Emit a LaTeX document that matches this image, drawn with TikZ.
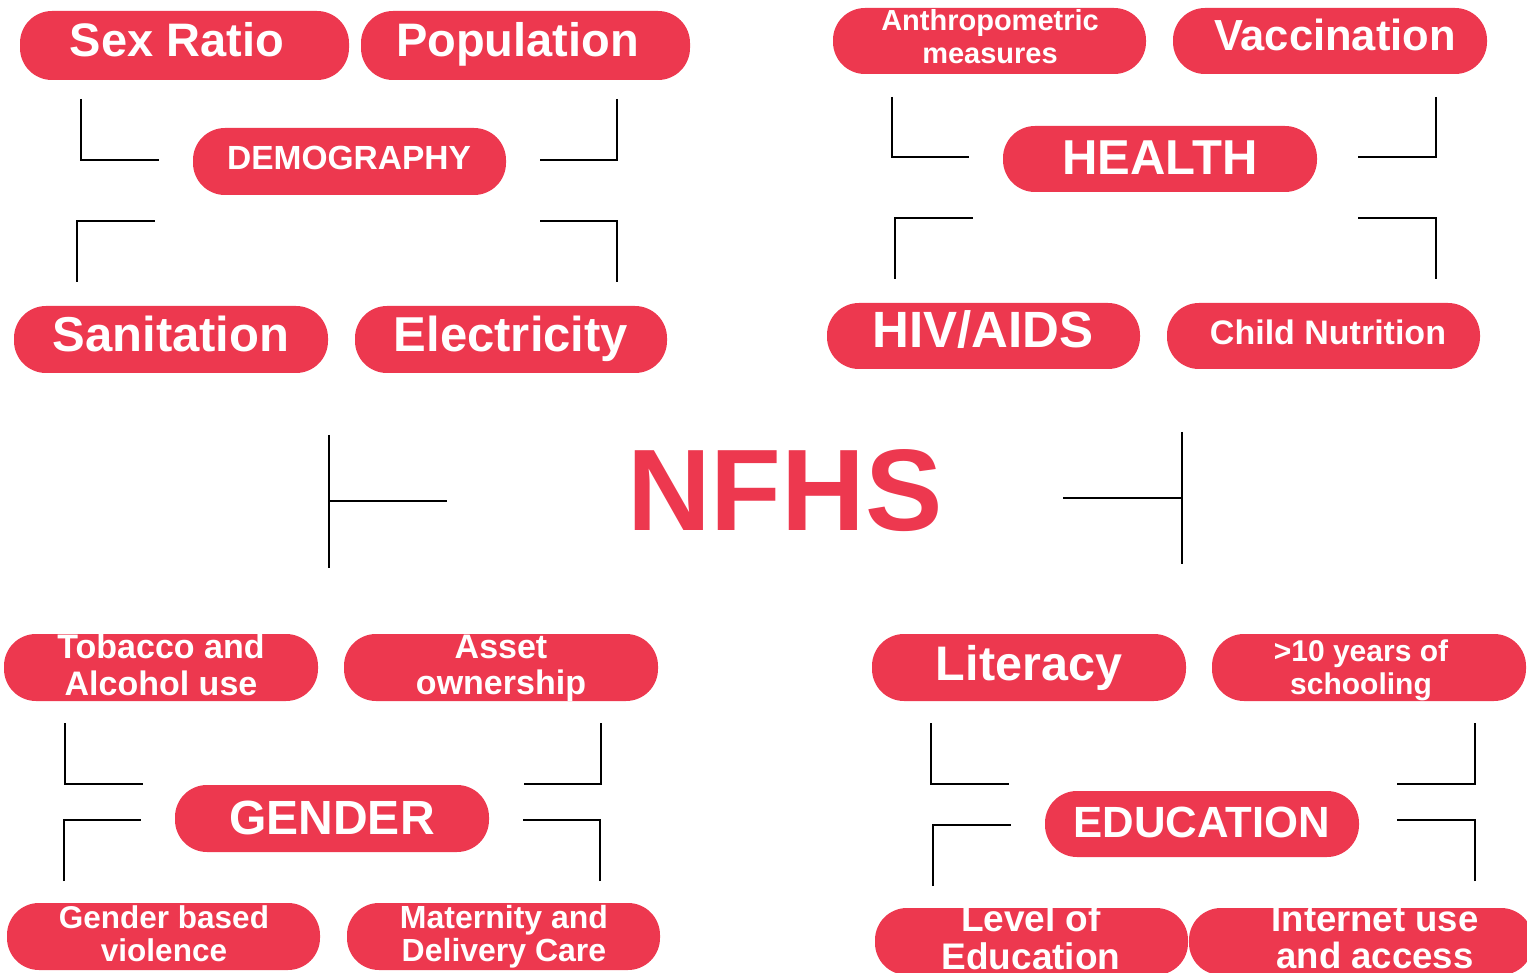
\documentclass[tikz,border=0pt]{standalone}
\usepackage{fontspec}
\setmainfont{Liberation Sans}
\definecolor{pillred}{RGB}{237,56,79}
\tikzset{
  pill/.style={rectangle, fill=pillred, draw=none, rounded corners=32pt, inner sep=0pt},
  ptext/.style={text=white, anchor=base, inner sep=0pt},
  elbow/.style={draw=black, line width=1.6pt},
}
% pill: name, cx, cy, w, h
\newcommand\mypill[5]{\node[pill, minimum width=#4pt, minimum height=#5pt] (#1) at (#2,#3) {};}
% one text line: name, cx, baseline y, size, text
\newcommand\myline[5]{\node[ptext, font={\fontsize{#4}{#4}\selectfont\bfseries}] (#1) at (#2,#3) {#5};}
% elbow: name, corner x,y, end1 x,y, end2 x,y
\newcommand\myelbow[7]{%
  \coordinate (#1a) at (#4,#5);
  \coordinate (#1c) at (#2,#3);
  \coordinate (#1b) at (#6,#7);
  \draw[elbow] (#1a) -- (#1c) -- (#1b);}
\begin{document}
\begin{tikzpicture}[x=1pt,y=-1pt]
\useasboundingbox (0,0) rectangle (1527,973);
\clip (0,0) rectangle (1527,973);
% ---------- DEMOGRAPHY ----------
\mypill{sexratio}{184.5}{45.5}{329}{69}
\mypill{population}{525.5}{45.5}{329}{69}
\mypill{demography}{349.5}{161.5}{313}{67}
\mypill{sanitation}{171}{339.5}{314}{67}
\mypill{electricity}{511}{339.5}{312}{67}
\myline{t-sexratio}{177}{57}{47}{Sex Ratio}
\myline{t-population}{517.5}{57}{47}{Population}
\myline{t-demography}{349}{170}{33.5}{DEMOGRAPHY}
\myline{t-sanitation}{171}{352}{49}{Sanitation}
\myline{t-electricity}{511}{352}{49}{Electricity}
\myelbow{d1}{81}{160}{81}{99}{159}{160}
\myelbow{d2}{617}{160}{617}{99}{540}{160}
\myelbow{d3}{77}{221}{77}{282}{155}{221}
\myelbow{d4}{617}{221}{617}{282}{540}{221}
% ---------- HEALTH ----------
\mypill{anthro}{989.5}{41}{313}{66}
\mypill{vaccination}{1330}{41}{314}{66}
\mypill{health}{1160}{159}{314}{66}
\mypill{hiv}{983.5}{336}{313}{66}
\mypill{child}{1323.5}{336}{313}{66}
\myline{t-anthro1}{990}{31}{29}{Anthropometric}
\myline{t-anthro2}{990}{64}{29}{measures}
\myline{t-vaccination}{1335}{51}{43.5}{Vaccination}
\myline{t-health}{1160}{175}{49}{HEALTH}
\myline{t-hiv}{983}{348}{51}{HIV/AIDS}
\myline{t-child}{1328}{345}{34}{Child Nutrition}
\myelbow{h1}{892}{157}{892}{97}{969}{157}
\myelbow{h2}{1436}{157}{1436}{97}{1358}{157}
\myelbow{h3}{895}{218}{895}{279}{973}{218}
\myelbow{h4}{1436}{218}{1436}{279}{1358}{218}
% ---------- CENTRE ----------
\node[text=pillred, anchor=base, inner sep=0pt, font={\fontsize{116}{116}\selectfont\bfseries}] (nfhs) at (785,530) {NFHS};
\coordinate (cl1) at (329,435); \coordinate (cl2) at (329,568);
\coordinate (cl3) at (329,501); \coordinate (cl4) at (447,501);
\draw[elbow] (cl1) -- (cl2); \draw[elbow] (cl3) -- (cl4);
\coordinate (cr1) at (1182,432); \coordinate (cr2) at (1182,564);
\coordinate (cr3) at (1182,498); \coordinate (cr4) at (1063,498);
\draw[elbow] (cr1) -- (cr2); \draw[elbow] (cr3) -- (cr4);
% ---------- GENDER ----------
\mypill{tobacco}{161}{667.5}{314}{67}
\mypill{asset}{501}{667.5}{314}{67}
\mypill{gender}{332}{818.5}{314}{67}
\mypill{gbv}{163.5}{936.5}{313}{67}
\mypill{maternity}{503.5}{936.5}{313}{67}
\myline{t-tobacco1}{161}{658}{34}{Tobacco and}
\myline{t-tobacco2}{161}{695}{34}{Alcohol use}
\myline{t-asset1}{501}{658}{34}{Asset}
\myline{t-asset2}{501}{694}{34}{ownership}
\myline{t-gender}{332}{834}{48}{GENDER}
\myline{t-gbv1}{164}{928}{31.5}{Gender based}
\myline{t-gbv2}{164}{961}{31.5}{violence}
\myline{t-maternity1}{504}{928}{32}{Maternity and}
\myline{t-maternity2}{504}{961}{32}{Delivery Care}
\myelbow{g1}{65}{784}{65}{723}{143}{784}
\myelbow{g2}{601}{784}{601}{723}{524}{784}
\myelbow{g3}{64}{820}{64}{881}{141}{820}
\myelbow{g4}{600}{820}{600}{881}{523}{820}
% ---------- EDUCATION ----------
\mypill{literacy}{1029}{667.5}{314}{67}
\mypill{schooling}{1369}{667.5}{314}{67}
\mypill{education}{1202}{824}{314}{66}
\mypill{level}{1031.5}{941.5}{313}{67}
\mypill{internet}{1361}{941.5}{344}{67}
\myline{t-literacy}{1029}{680}{48.5}{Literacy}
\myline{t-schooling1}{1361}{661}{30}{>10 years of}
\myline{t-schooling2}{1361}{694}{30}{schooling}
\myline{t-education}{1202}{837}{43.7}{EDUCATION}
\myline{t-level1}{1031}{931}{37}{Level of}
\myline{t-level2}{1031}{969}{37}{Education}
\myline{t-internet1}{1375}{931}{36.5}{Internet use}
\myline{t-internet2}{1375}{968}{36.5}{and access}
\myelbow{e1}{931}{784}{931}{723}{1009}{784}
\myelbow{e2}{1475}{784}{1475}{723}{1397}{784}
\myelbow{e3}{933}{825}{933}{886}{1011}{825}
\myelbow{e4}{1475}{820}{1475}{881}{1397}{820}
\end{tikzpicture}
\end{document}
